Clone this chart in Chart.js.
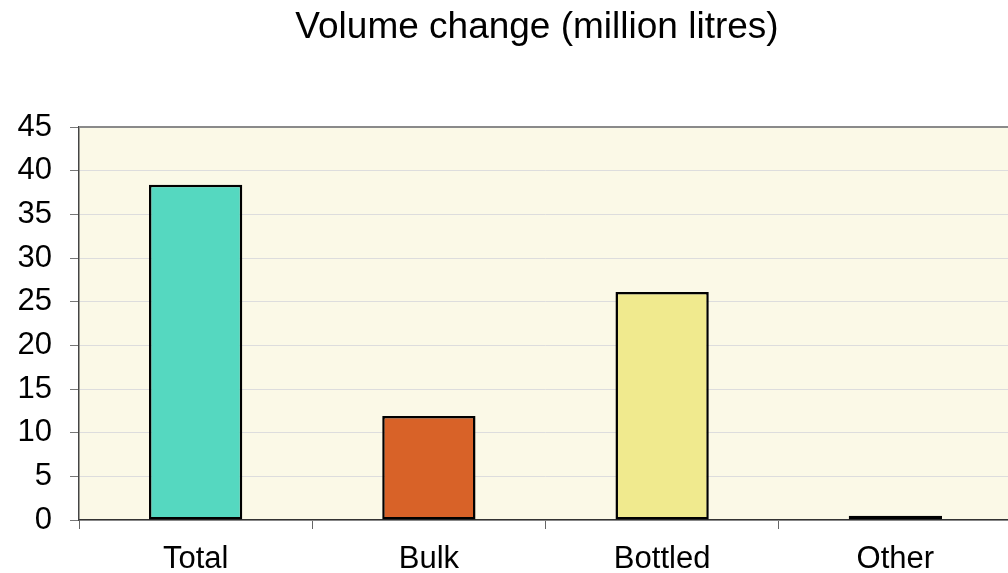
<!DOCTYPE html>
<html>
<head>
<meta charset="utf-8">
<script src="https://cdn.jsdelivr.net/npm/chart.js@4.4.1/dist/chart.umd.min.js"></script>
<style>
  html, body { margin: 0; padding: 0; background: #ffffff; overflow: hidden; }
  #wrap { position: relative; width: 1013px; height: 573px; }
</style>
</head>
<body>
<div id="wrap"><canvas id="chart"></canvas></div>
<script>
// Volume change by wine category, in million litres
const categories = ['Total', 'Bulk', 'Bottled', 'Other'];
const volumeChange = [38.4, 11.9, 26.1, 0.5];
const barColors = ['#55d8c0', '#d86228', '#f0ea8e', '#1e3b30'];
const yTicks = [0, 5, 10, 15, 20, 25, 30, 35, 40, 45];
const chartTitle = 'Volume change (million litres)';

const FONT = 'Liberation Sans, Arial, sans-serif';

// Cream plot background, grey top border, and the heading above the plot
const plotFrame = {
  id: 'plotFrame',
  beforeDraw(chart) {
    const { ctx, chartArea: a } = chart;
    ctx.save();
    ctx.fillStyle = '#fbf9e7';
    ctx.fillRect(a.left, a.top, a.right - a.left, a.bottom - a.top);
    ctx.restore();
  },
  afterDraw(chart) {
    const { ctx, chartArea: a } = chart;
    ctx.save();
    ctx.strokeStyle = '#8a8a8a';
    ctx.lineWidth = 2;
    ctx.beginPath();
    ctx.moveTo(a.left, a.top);
    ctx.lineTo(a.right, a.top);
    ctx.stroke();

    ctx.fillStyle = '#000000';
    ctx.font = '37px ' + FONT;
    ctx.textAlign = 'center';
    ctx.textBaseline = 'alphabetic';
    ctx.fillText(chartTitle, 537, 38);
    ctx.restore();
  }
};

new Chart(document.getElementById('chart'), {
  type: 'bar',
  data: {
    labels: categories,
    datasets: [{
      data: volumeChange,
      backgroundColor: barColors,
      borderColor: '#000000',
      borderWidth: 2.5,
      borderSkipped: false,
      barPercentage: 0.4,
      categoryPercentage: 1.0
    }]
  },
  options: {
    responsive: true,
    maintainAspectRatio: false,
    animation: false,
    layout: { padding: { left: 0, right: 1, top: 127, bottom: 0 } },
    plugins: {
      legend: { display: false },
      tooltip: { enabled: false },
      title: { display: false }
    },
    scales: {
      x: {
        grid: {
          display: true,
          offset: true,
          drawOnChartArea: false,
          drawTicks: true,
          tickLength: 9,
          tickColor: '#666666'
        },
        border: { display: true, color: '#333333', width: 1.5 },
        ticks: {
          color: '#000000',
          padding: 12,
          font: { family: FONT, size: 31 }
        },
        afterFit(scale) { scale.height = 53; }
      },
      y: {
        min: 0,
        max: 45,
        afterBuildTicks(scale) { scale.ticks = yTicks.map(v => ({ value: v })); },
        grid: {
          color: '#dddddd',
          lineWidth: 1,
          drawTicks: true,
          tickLength: 9,
          tickColor: '#777777'
        },
        border: { display: true, color: '#444444', width: 1.5 },
        ticks: {
          color: '#000000',
          padding: 18,
          font: { family: FONT, size: 31 }
        },
        afterFit(scale) { scale.width = 79; }
      }
    }
  },
  plugins: [plotFrame]
});
</script>
</body>
</html>
